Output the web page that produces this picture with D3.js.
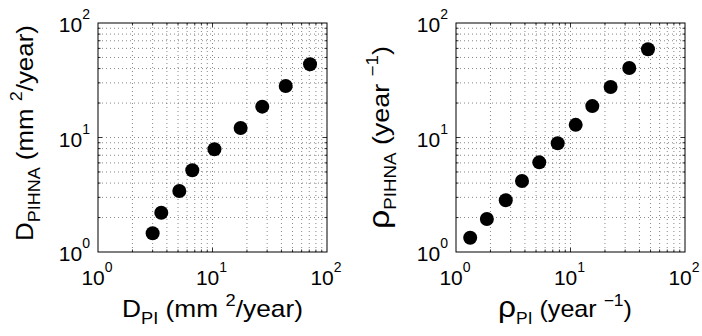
<!DOCTYPE html>
<html>
<head>
<meta charset="utf-8">
<script src="https://cdn.jsdelivr.net/npm/d3@7"></script>
<style>
  body { margin: 0; background: #fff; }
  text { font-family: "Liberation Sans", Arial, sans-serif; fill: #000; }
  .grid line { stroke: #555; stroke-width: 0.7; stroke-dasharray: 1,3; }
</style>
</head>
<body>
<script>
// left panel: diffusion
const dPI    = [3.0, 3.57, 5.13, 6.66, 10.4, 17.6, 27.2, 43.6, 71.1];
const dPIHNA = [1.46, 2.20, 3.41, 5.17, 7.89, 12.1, 18.6, 28.2, 43.6];
// right panel: proliferation
const rhoPI    = [1.33, 1.86, 2.72, 3.77, 5.34, 7.73, 11.1, 15.5, 22.4, 32.6, 47.5];
const rhoPIHNA = [1.33, 1.94, 2.83, 4.17, 6.07, 8.90, 12.9, 18.8, 27.6, 40.5, 58.9];
const decades = [1, 10, 100];
const exps = ["0", "1", "2"];

const svg = d3.select("body").append("svg")
  .attr("width", 702).attr("height", 336);

const plotTop = 23, plotBottom = 252, size = 229;

function panel(left, xs, ys) {
  const x = d3.scaleLog().domain([1, 100]).range([left, left + size]);
  const y = d3.scaleLog().domain([1, 100]).range([plotBottom, plotTop]);
  const minors = [];
  for (let d of [1, 10]) for (let k = 2; k <= 9; k++) minors.push(d * k);
  const all = minors.concat([10]);

  const g = svg.append("g").attr("class", "grid");
  g.selectAll(".vx").data(all).enter().append("line")
    .attr("x1", d => x(d)).attr("x2", d => x(d))
    .attr("y1", plotTop).attr("y2", plotBottom);
  g.selectAll(".hy").data(all).enter().append("line")
    .attr("y1", d => y(d)).attr("y2", d => y(d))
    .attr("x1", left).attr("x2", left + size);

  // inward ticks like matlab
  const t = svg.append("g").attr("stroke", "#000").attr("stroke-width", 0.8);
  all.forEach(d => {
    const len = d === 10 ? 4 : 2.5;
    t.append("line").attr("x1", x(d)).attr("x2", x(d)).attr("y1", plotBottom).attr("y2", plotBottom - len);
    t.append("line").attr("x1", x(d)).attr("x2", x(d)).attr("y1", plotTop).attr("y2", plotTop + len);
    t.append("line").attr("y1", y(d)).attr("y2", y(d)).attr("x1", left).attr("x2", left + len);
    t.append("line").attr("y1", y(d)).attr("y2", y(d)).attr("x1", left + size).attr("x2", left + size - len);
  });

  svg.append("rect").attr("x", left).attr("y", plotTop)
    .attr("width", size).attr("height", plotBottom - plotTop)
    .attr("fill", "none").attr("stroke", "#000").attr("stroke-width", 1);

  decades.forEach((d, i) => {
    const tx = svg.append("text").attr("x", x(d) - 1).attr("y", plotBottom + 33)
      .attr("text-anchor", "middle").attr("font-size", 21);
    tx.append("tspan").text("10");
    tx.append("tspan").attr("dy", -13).attr("font-size", 14).text(exps[i]);

    const ty = svg.append("text").attr("x", left - 8).attr("y", y(d) + 9)
      .attr("text-anchor", "end").attr("font-size", 21);
    ty.append("tspan").text("10");
    ty.append("tspan").attr("dy", -13).attr("font-size", 14).text(exps[i]);
  });

  svg.append("g").selectAll("circle")
    .data(xs.map((v, i) => [v, ys[i]]))
    .enter().append("circle")
    .attr("cx", d => x(d[0])).attr("cy", d => y(d[1]))
    .attr("r", 7).attr("fill", "#000");
}

// axis title with subscript + superscript, fitted to the given length
function title(px, py, rot, len, big, bigSize, subt, rest, supText, tail) {
  const el = svg.append("text").attr("font-size", 23);
  el.append("tspan").attr("font-size", bigSize).text(big);
  el.append("tspan").attr("font-size", 16).attr("dy", 7).text(subt);
  el.append("tspan").attr("dy", -7).text(rest);
  el.append("tspan").attr("font-size", 16).attr("dy", -11).text(supText);
  el.append("tspan").attr("dy", 11).text(tail);
  const w = el.node().getBBox().width;
  el.attr("transform", `translate(${px},${py}) rotate(${rot}) scale(${len / w},1)`);
}

panel(98, dPI, dPIHNA);
panel(456, rhoPI, rhoPIHNA);

title(122, 317, 0, 181, "D", 23, "PI", " (mm ", "2", "/year)");
title(33, 241, -90, 216, "D", 23, "PIHNA", "  (mm ", "2", "/year)");
title(498, 317, 0, 134, "ρ", 29, "PI", " (year ", "−1", ")");
title(389, 229, -90, 183, "ρ", 29, "PIHNA", "  (year ", "−1", ")");
</script>
</body>
</html>
